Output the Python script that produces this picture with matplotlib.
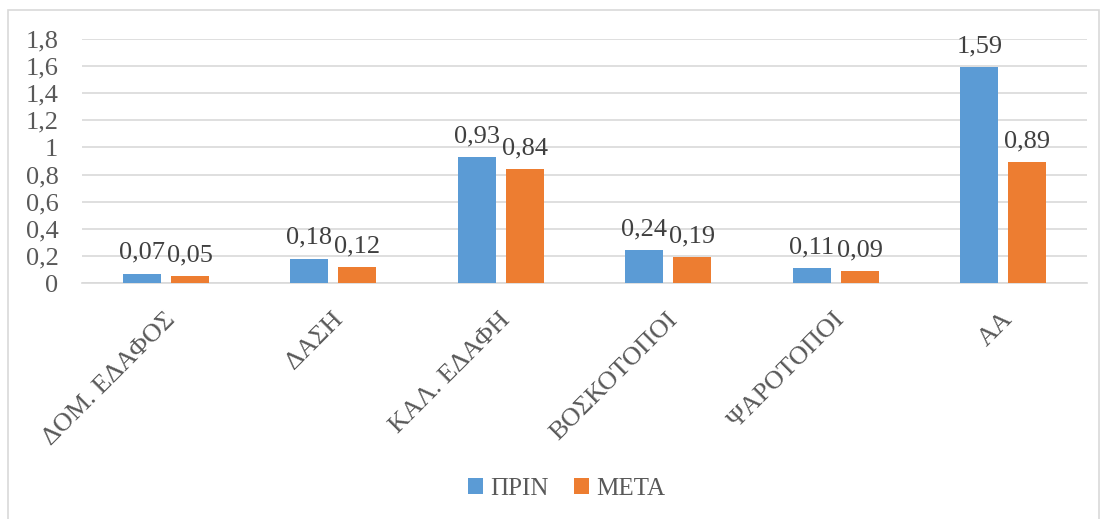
import numpy as np
import matplotlib.pyplot as plt
from matplotlib.patches import Rectangle
from matplotlib.transforms import ScaledTranslation

categories = ["ΔΟΜ. ΕΔΑΦΟΣ", "ΔΑΣΗ", "ΚΑΛ. ΕΔΑΦΗ", "ΒΟΣΚΟΤΟΠΟΙ", "ΨΑΡΟΤΟΠΟΙ", "ΑΑ"]
prin = [0.07, 0.18, 0.93, 0.24, 0.11, 1.59]
meta = [0.05, 0.12, 0.84, 0.19, 0.09, 0.89]
yticks = [0, 0.2, 0.4, 0.6, 0.8, 1, 1.2, 1.4, 1.6, 1.8]

plt.rcParams['font.family'] = ['Liberation Serif', 'DejaVu Serif']

def fmt(v):
    s = "%g" % v
    return s.replace(".", ",")

fig = plt.figure(figsize=(11.05, 5.19), dpi=100)
ax = fig.add_axes([0.0742, 0.4547, 0.9095, 0.4702])

# outer chart frame
fig.patches.append(Rectangle((8 / 1105, -0.05), 1091 / 1105, 1 - 10 / 519 + 0.05,
                             transform=fig.transFigure, fill=False,
                             edgecolor="#D9D9D9", linewidth=1.2))

x = np.arange(len(categories))
w = 0.227
off = 0.143
b1 = ax.bar(x - off, prin, w, color="#5B9BD5", label="ΠΡΙΝ", zorder=3)
b2 = ax.bar(x + off, meta, w, color="#ED7D31", label="ΜΕΤΑ", zorder=3)

for bars, vals in ((b1, prin), (b2, meta)):
    for b, v in zip(bars, vals):
        ax.annotate(fmt(v), (b.get_x() + b.get_width() / 2, v), xytext=(0, 7),
                    textcoords="offset points", ha="center", va="bottom",
                    fontsize=19, color="#404040")

ax.set_xlim(-0.5, len(categories) - 0.5)
ax.set_ylim(0, 1.8)
ax.set_yticks(yticks)
ax.set_yticklabels([fmt(t) for t in yticks], fontsize=19, color="#595959")
ax.set_xticks(x)
ax.set_xticklabels(categories, rotation=45, ha="right", va="center",
                   rotation_mode="anchor", fontsize=19, color="#595959")
ax.tick_params(axis="both", length=0)
ax.tick_params(axis="x", pad=24)
ax.tick_params(axis="y", pad=17)
# nudge the slanted category labels a little to the right
shift = ScaledTranslation(6 / 100, 0, fig.dpi_scale_trans)
for lab in ax.get_xticklabels():
    lab.set_transform(lab.get_transform() + shift)
ax.grid(axis="y", color="#D9D9D9", linewidth=1.2, zorder=0)
for s in ("top", "right", "left"):
    ax.spines[s].set_visible(False)
ax.spines["bottom"].set_color("#D9D9D9")
ax.spines["bottom"].set_linewidth(1.2)

fig.legend(handles=[b1, b2], loc="center", bbox_to_anchor=(0.513, 0.058), ncol=2,
           frameon=False, prop={"family": "Liberation Serif", "size": 18},
           handlelength=0.6, handleheight=0.6,
           handletextpad=0.3, columnspacing=1.0, labelcolor="#595959")

fig.savefig("out.png", dpi=100)
